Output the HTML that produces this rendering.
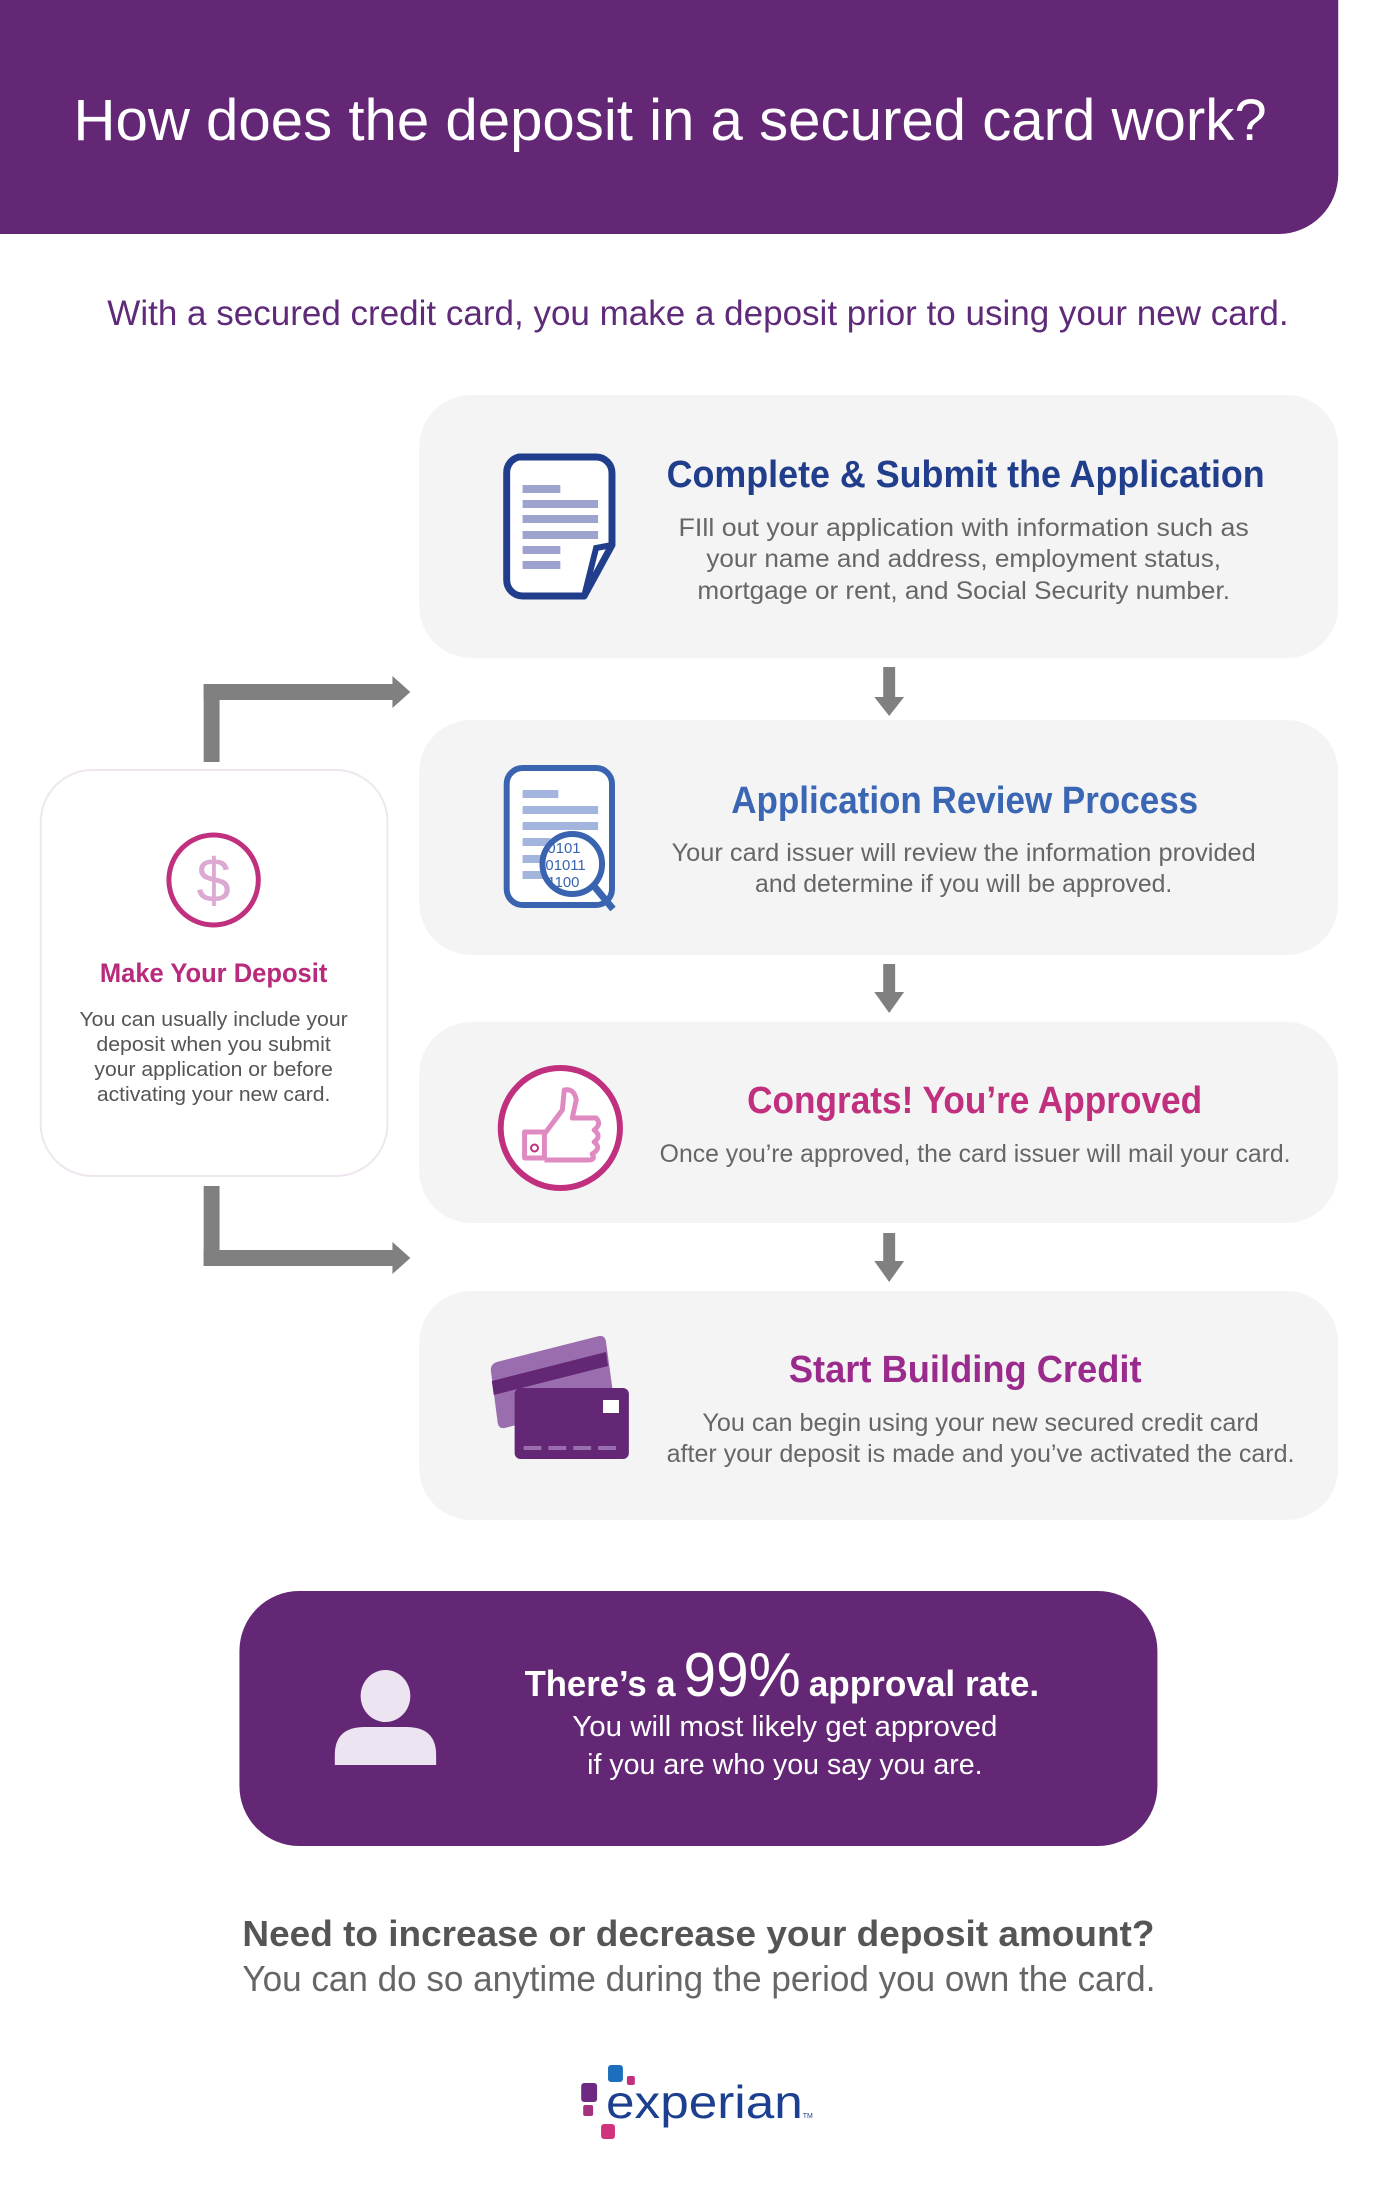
<!DOCTYPE html>
<html><head><meta charset="utf-8"><style>
html,body{margin:0;padding:0;background:#fff;}
svg{display:block;}
text{font-family:"Liberation Sans",sans-serif;}
</style></head><body>
<svg width="1400" height="2210" viewBox="0 0 1400 2210" xmlns="http://www.w3.org/2000/svg">
<g transform="scale(0.9935,1)">
<!-- header -->
<path d="M0 0 H1347 V174 A60 60 0 0 1 1287 234 H0 Z" fill="#632775"/>
<text x="74" y="140" font-size="58" fill="#fff" textLength="1201" lengthAdjust="spacingAndGlyphs">How does the deposit in a secured card work?</text>
<text x="108" y="325" font-size="35" fill="#5f2a79" textLength="1189" lengthAdjust="spacingAndGlyphs">With a secured credit card, you make a deposit prior to using your new card.</text>

<!-- cards -->
<rect x="422" y="395" width="925" height="263" rx="52" fill="#f4f4f4"/>
<rect x="422" y="720" width="925" height="235" rx="52" fill="#f4f4f4"/>
<rect x="422" y="1022" width="925" height="201" rx="52" fill="#f4f4f4"/>
<rect x="422" y="1291" width="925" height="229" rx="52" fill="#f4f4f4"/>

<!-- down arrows -->
<g fill="#808080">
<rect x="889" y="667" width="12" height="32"/><path d="M880 697 H910 L895 716 Z"/>
<rect x="889" y="964" width="12" height="30"/><path d="M880 992 H910 L895 1013 Z"/>
<rect x="889" y="1233" width="12" height="30"/><path d="M880 1261 H910 L895 1282 Z"/>
</g>

<!-- connectors -->
<g fill="#808080">
<rect x="205" y="684" width="16" height="78"/>
<rect x="205" y="684" width="192" height="16"/>
<path d="M395 676 L413 692 L395 708 Z"/>
<rect x="205" y="1186" width="16" height="80"/>
<rect x="205" y="1250" width="192" height="16"/>
<path d="M395 1242 L413 1258 L395 1274 Z"/>
</g>

<!-- left card -->
<rect x="41" y="770" width="349" height="406" rx="52" fill="#fff" stroke="#efe6f0" stroke-width="2"/>
<circle cx="215" cy="880" r="45" fill="none" stroke="#c0307f" stroke-width="5"/>
<text x="215" y="902" font-size="62" fill="#dca9d2" text-anchor="middle">$</text>
<text x="215" y="982" font-size="27" font-weight="bold" fill="#b82a7b" text-anchor="middle" textLength="229" lengthAdjust="spacingAndGlyphs">Make Your Deposit</text>
<g font-size="20" fill="#555" text-anchor="middle">
<text x="215" y="1026" textLength="270" lengthAdjust="spacingAndGlyphs">You can usually include your</text>
<text x="215" y="1051" textLength="236" lengthAdjust="spacingAndGlyphs">deposit when you submit</text>
<text x="215" y="1076" textLength="240" lengthAdjust="spacingAndGlyphs">your application or before</text>
<text x="215" y="1101" textLength="235" lengthAdjust="spacingAndGlyphs">activating your new card.</text>
</g>

<!-- card1 -->
<path d="M522 457 H600 A16 16 0 0 1 616 473 V545 L588 596 H526 A16 16 0 0 1 510 580 V473 A16 16 0 0 1 522 457 Z" fill="#fff" stroke="#213e8c" stroke-width="7" stroke-linejoin="round"/>
<path d="M616 545 L600 548 L588 596" fill="none" stroke="#213e8c" stroke-width="6"/>
<g fill="#9ea2cf">
<rect x="526" y="485" width="38" height="8"/><rect x="526" y="500" width="76" height="8"/>
<rect x="526" y="515" width="76" height="8"/><rect x="526" y="531" width="76" height="8"/>
<rect x="526" y="546" width="38" height="8"/><rect x="526" y="561" width="38" height="8"/>
</g>
<text x="671" y="487" font-size="38" font-weight="bold" fill="#213e8c" textLength="602" lengthAdjust="spacingAndGlyphs">Complete &amp; Submit the Application</text>
<g font-size="25" fill="#666" text-anchor="middle">
<text x="970" y="536" textLength="574" lengthAdjust="spacingAndGlyphs">FIll out your application with information such as</text>
<text x="970" y="567" textLength="518" lengthAdjust="spacingAndGlyphs">your name and address, employment status,</text>
<text x="970" y="599" textLength="536" lengthAdjust="spacingAndGlyphs">mortgage or rent, and Social Security number.</text>
</g>

<!-- card2 -->
<rect x="510" y="768" width="106" height="137" rx="16" fill="#fff" stroke="#3a64b0" stroke-width="6"/>
<g fill="#a3b5dd">
<rect x="526" y="790" width="36" height="8"/><rect x="526" y="806" width="76" height="8"/>
<rect x="526" y="822" width="76" height="8"/><rect x="526" y="838" width="28" height="8"/>
<rect x="526" y="855" width="28" height="8"/><rect x="526" y="871" width="28" height="8"/>
</g>
<circle cx="576" cy="864" r="30" fill="#fff" stroke="#3a64b0" stroke-width="6"/>
<line x1="597" y1="885" x2="617" y2="909" stroke="#3a64b0" stroke-width="7"/>
<g font-size="15" fill="#3a64b0" font-family="Liberation Sans Narrow, Liberation Sans, sans-serif">
<text x="551" y="853">0101</text><text x="549" y="870">01011</text><text x="551" y="887">1100</text>
</g>
<text x="736" y="813" font-size="38" font-weight="bold" fill="#3a66b3" textLength="470" lengthAdjust="spacingAndGlyphs">Application Review Process</text>
<g font-size="25" fill="#666" text-anchor="middle">
<text x="970" y="861" textLength="588" lengthAdjust="spacingAndGlyphs">Your card issuer will review the information provided</text>
<text x="970" y="892" textLength="420" lengthAdjust="spacingAndGlyphs">and determine if you will be approved.</text>
</g>

<!-- card3 -->
<circle cx="564" cy="1128" r="60" fill="#fff" stroke="#c0307f" stroke-width="6"/>
<path d="M528 1132 H548 V1158 H528 Z M548 1134 L566 1110 L568 1090 Q578 1088 580 1100 L576 1118 H600 Q606 1124 598 1130 Q606 1136 598 1142 Q606 1148 596 1154 Q600 1160 592 1160 H548" fill="none" stroke="#e08ac2" stroke-width="5" stroke-linejoin="round"/>
<circle cx="538" cy="1148" r="3.5" fill="none" stroke="#c0307f" stroke-width="2"/>
<text x="752" y="1113" font-size="38" font-weight="bold" fill="#c0307f" textLength="458" lengthAdjust="spacingAndGlyphs">Congrats! You’re Approved</text>
<text x="664" y="1162" font-size="25" fill="#666" textLength="635" lengthAdjust="spacingAndGlyphs">Once you’re approved, the card issuer will mail your card.</text>

<!-- card4 -->
<path d="M500 1362 L603 1336 Q609 1335 610 1342 L618 1400 L508 1428 Q502 1429 501 1423 L494 1370 Q494 1364 500 1362 Z" fill="#9a6eae"/>
<path d="M495 1381 L610 1352 L612 1366 L497 1395 Z" fill="#632775"/>
<rect x="518" y="1388" width="115" height="71" rx="6" fill="#632775"/>
<rect x="607" y="1400" width="16" height="13" fill="#fff"/>
<g fill="#9a6eae"><rect x="527" y="1446" width="18" height="4"/><rect x="552" y="1446" width="18" height="4"/><rect x="577" y="1446" width="18" height="4"/><rect x="602" y="1446" width="18" height="4"/></g>
<text x="794" y="1382" font-size="38" font-weight="bold" fill="#9b2a8d" textLength="355" lengthAdjust="spacingAndGlyphs">Start Building Credit</text>
<g font-size="25" fill="#666" text-anchor="middle">
<text x="987" y="1431" textLength="560" lengthAdjust="spacingAndGlyphs">You can begin using your new secured credit card</text>
<text x="987" y="1462" textLength="632" lengthAdjust="spacingAndGlyphs">after your deposit is made and you’ve activated the card.</text>
</g>

<!-- purple box -->
<rect x="241" y="1591" width="924" height="255" rx="60" fill="#632775"/>
<ellipse cx="388" cy="1696" rx="25" ry="26" fill="#ece4f0"/>
<path d="M337 1765 V1755 Q337 1727 367 1727 H409 Q439 1727 439 1755 V1765 Z" fill="#ece4f0"/>
<text x="528" y="1696" font-size="36" font-weight="bold" fill="#fff">
<tspan textLength="152" lengthAdjust="spacingAndGlyphs">There’s a</tspan><tspan dx="8" font-size="62" font-weight="normal" textLength="118" lengthAdjust="spacingAndGlyphs" style="font-weight:300">99%</tspan><tspan dx="8" textLength="232" lengthAdjust="spacingAndGlyphs">approval rate.</tspan></text>
<g font-size="29" fill="#fff" text-anchor="middle">
<text x="790" y="1736" textLength="428" lengthAdjust="spacingAndGlyphs">You will most likely get approved</text>
<text x="790" y="1774" textLength="398" lengthAdjust="spacingAndGlyphs">if you are who you say you are.</text>
</g>

<text x="244" y="1946" font-size="36" font-weight="bold" fill="#555" textLength="918" lengthAdjust="spacingAndGlyphs">Need to increase or decrease your deposit amount?</text>
<text x="244" y="1991" font-size="36" fill="#666" textLength="919" lengthAdjust="spacingAndGlyphs">You can do so anytime during the period you own the card.</text>

<!-- experian logo -->
<rect x="612" y="2065" width="15" height="17" rx="3" fill="#1d6fbd"/>
<rect x="631" y="2076" width="8" height="9" rx="2" fill="#c2307f"/>
<rect x="585" y="2083" width="16" height="19" rx="3" fill="#6e2a82"/>
<rect x="587" y="2105" width="10" height="11" rx="2" fill="#a4337f"/>
<rect x="605" y="2124" width="14" height="15" rx="3" fill="#d2337f"/>
<text x="610" y="2118" font-size="46" fill="#1d3f8f" textLength="198" lengthAdjust="spacingAndGlyphs">experian</text>
<text x="808" y="2118" font-size="7" fill="#1d3f8f">TM</text>
</g>
</svg>
</body></html>
